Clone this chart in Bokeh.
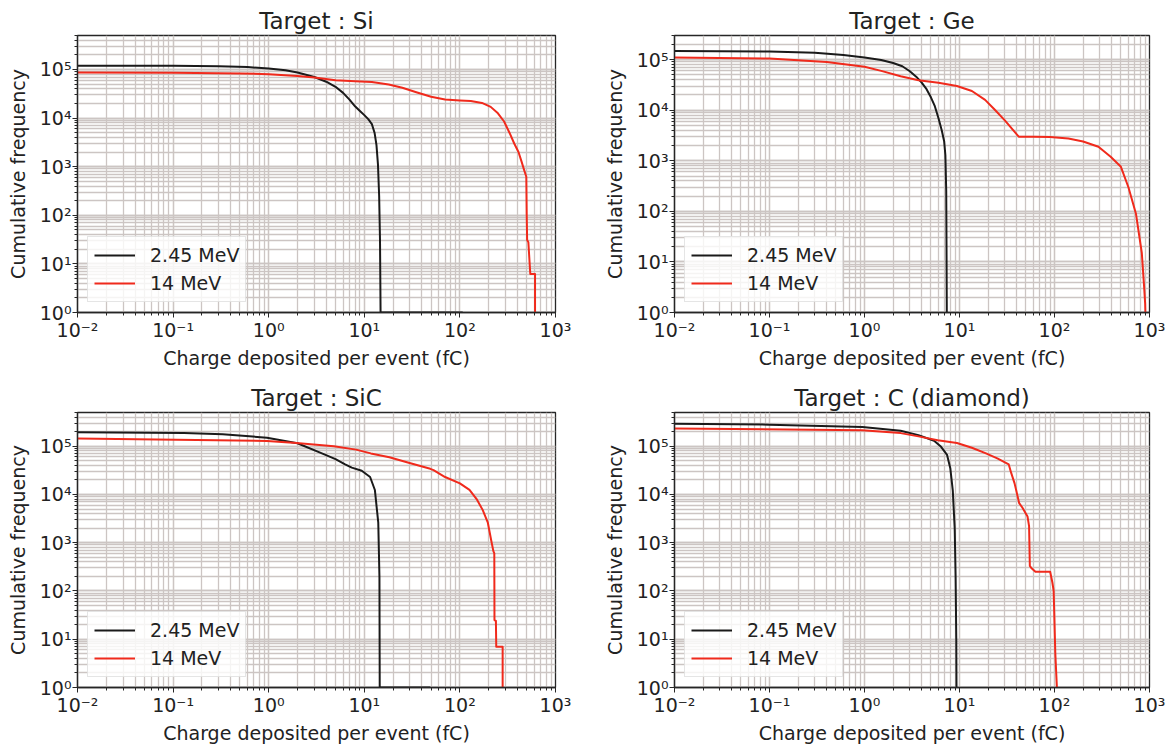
from bokeh.plotting import figure
from bokeh.layouts import gridplot
from bokeh.models import Range1d, CustomJSTickFormatter
from bokeh.embed import file_html
from bokeh.resources import INLINE

# ---------------- data ----------------
titles = ["Target : Si", "Target : Ge", "Target : SiC", "Target : C (diamond)"]
series_labels = ["2.45 MeV", "14 MeV"]
x_label = "Charge deposited per event (fC)"
y_label = "Cumulative frequency"
x_limits = [1e-2, 1e3]
y_bottom = 1
y_tops = [5.0e5, 3.0e5, 5.0e5, 5.0e5]

# Si
si_245_x = [0.01, 0.1, 0.3, 0.6, 1.0, 1.5, 2.0, 3.0, 4.0, 5.0, 6.0, 7.0, 8.0, 9.0, 10.0, 11.0, 12.0, 12.8, 13.4, 13.9, 14.3, 14.6, 14.8, 107]
si_245_y = [1.2e5, 1.19e5, 1.17e5, 1.12e5, 1.05e5, 9.6e4, 8.7e4, 7.0e4, 5.6e4, 4.4e4, 3.3e4, 2.4e4, 1.75e4, 1.4e4, 1.15e4, 9.5e3, 7.5e3, 5.0e3, 2.8e3, 1.1e3, 250, 30, 1, 1]
si_14_x = [0.01, 0.1, 0.5, 1.0, 2.0, 3.0, 5.0, 8.0, 12, 18, 25, 35, 50, 70, 100, 130, 170, 210, 250, 290, 330, 370, 410, 440, 470, 495, 500, 505, 520, 545, 611, 611]
si_14_y = [8.7e4, 8.6e4, 8.3e4, 8.0e4, 7.3e4, 6.8e4, 6.0e4, 5.7e4, 5.5e4, 4.9e4, 4.2e4, 3.4e4, 2.75e4, 2.4e4, 2.3e4, 2.25e4, 2.05e4, 1.7e4, 1.25e4, 8.5e3, 5.0e3, 3.0e3, 2.0e3, 1.3e3, 850, 620, 100, 31, 28, 6.2, 6.2, 1]

# Ge
ge_245_x = [0.01, 0.1, 0.3, 0.6, 1.0, 1.5, 2.0, 2.5, 3.0, 3.5, 4.0, 4.5, 5.0, 5.5, 6.0, 6.5, 6.9, 7.1, 7.25, 7.3, 7.35]
ge_245_y = [1.48e5, 1.45e5, 1.37e5, 1.24e5, 1.1e5, 9.8e4, 8.6e4, 7.4e4, 5.9e4, 4.6e4, 3.5e4, 2.6e4, 1.8e4, 1.2e4, 7.0e3, 4.0e3, 2.4e3, 1.3e3, 250, 20, 1]
ge_14_x = [0.01, 0.1, 0.4, 1.0, 1.5, 2.4, 3.7, 6.0, 9.4, 13.5, 18.6, 23, 30, 42, 60, 90, 140, 200, 290, 390, 500, 600, 720, 830, 880, 900, 905]
ge_14_y = [1.1e5, 1.05e5, 9.0e4, 7.2e4, 6.0e4, 4.7e4, 3.9e4, 3.5e4, 3.0e4, 2.4e4, 1.6e4, 1.07e4, 6.3e3, 3.0e3, 3.0e3, 2.95e3, 2.75e3, 2.4e3, 1.9e3, 1.2e3, 760, 300, 90, 15, 3, 1.5, 1]

# SiC
sic_245_x = [0.01, 0.13, 0.33, 0.96, 2.0, 3.5, 5.0, 6.3, 7.4, 9.4, 11.5, 12.9, 14.0, 14.4, 14.5, 49]
sic_245_y = [1.96e5, 1.87e5, 1.77e5, 1.5e5, 1.15e5, 7.3e4, 5.4e4, 4.2e4, 3.6e4, 3.1e4, 2.3e4, 1.24e4, 2.6e3, 200, 1, 1]
sic_14_x = [0.01, 0.96, 1.95, 4.8, 8.2, 11.7, 18.3, 28.5, 49, 53, 70, 100, 126, 151, 173, 196, 215, 224, 229, 230, 238, 240, 280, 280]
sic_14_y = [1.44e5, 1.29e5, 1.17e5, 1.0e5, 8.5e4, 7.1e4, 5.9e4, 4.6e4, 3.4e4, 3.2e4, 2.3e4, 1.7e4, 1.25e4, 7.8e3, 4.8e3, 2.6e3, 1.0e3, 670, 600, 25, 24, 7, 7, 1]

# C (diamond)
c_245_x = [0.01, 0.1, 0.95, 2.4, 3.7, 5.4, 6.4, 7.4, 8.0, 8.5, 8.9, 9.1, 9.25, 9.3]
c_245_y = [2.93e5, 2.8e5, 2.5e5, 2.1e5, 1.7e5, 1.3e5, 9.7e4, 6.6e4, 3.5e4, 1.2e4, 2.0e3, 200, 10, 1]
c_14_x = [0.01, 0.95, 2.4, 3.7, 5.9, 9.4, 13.5, 19, 25, 33, 35, 38, 42.5, 46, 52, 54, 55, 57, 63, 90, 95, 98, 102, 106]
c_14_y = [2.34e5, 2.14e5, 1.87e5, 1.6e5, 1.33e5, 1.17e5, 9.3e4, 7.1e4, 5.6e4, 4.2e4, 2.8e4, 1.7e4, 6.6e3, 5.3e3, 3.5e3, 2.2e3, 330, 300, 250, 250, 150, 100, 5, 1]

panels = [
    (si_245_x, si_245_y, si_14_x, si_14_y),
    (ge_245_x, ge_245_y, ge_14_x, ge_14_y),
    (sic_245_x, sic_245_y, sic_14_x, sic_14_y),
    (c_245_x, c_245_y, c_14_x, c_14_y),
]

# ---------------- styling / layout ----------------
FONT = "DejaVu Sans"
TXT = "#222222"
GRID = "#ccc5c3"
COL_BLACK = "#1a1a1a"
COL_RED = "#f02a1c"

# (width, height, left, right, top, bottom)
geom = [
    (600, 372, 77, 45, 35, 60),
    (568, 372, 74, 19, 35, 60),
    (600, 374, 77, 45, 40, 57),
    (568, 374, 74, 19, 40, 57),
]

SUP_JS = """
const sup = {"-":"\\u207b","0":"\\u2070","1":"\\u00b9","2":"\\u00b2","3":"\\u00b3","4":"\\u2074","5":"\\u2075","6":"\\u2076","7":"\\u2077","8":"\\u2078","9":"\\u2079"};
const e = Math.round(Math.log10(tick));
return "10" + String(e).split("").map(c => sup[c]).join("");
"""


def make_panel(i):
    w, h, bl, br, bt, bb = geom[i]
    x1, y1, x2, y2 = panels[i]
    p = figure(width=w, height=h, x_axis_type="log", y_axis_type="log",
               x_range=Range1d(x_limits[0], x_limits[1]),
               y_range=Range1d(y_bottom, y_tops[i]),
               output_backend="svg", toolbar_location=None,
               min_border_left=bl, min_border_right=br,
               min_border_top=bt, min_border_bottom=bb,
               title=titles[i])
    p.title.text_font = FONT
    p.title.text_font_size = "23px"
    p.title.text_font_style = "normal"
    p.title.text_color = TXT
    p.title.align = "center"
    p.title.standoff = 3

    p.background_fill_color = "white"
    p.border_fill_color = "white"
    p.outline_line_color = "#262626"
    p.outline_line_width = 1.3
    p.outline_line_alpha = 1.0

    for g in (p.xgrid[0], p.ygrid[0]):
        g.grid_line_color = GRID
        g.grid_line_width = 1.3
        g.grid_line_alpha = 1.0
        g.minor_grid_line_color = GRID
        g.minor_grid_line_width = 1.3
        g.minor_grid_line_alpha = 1.0

    for ax in (p.xaxis[0], p.yaxis[0]):
        ax.formatter = CustomJSTickFormatter(code=SUP_JS)
        ax.major_label_text_font = FONT
        ax.major_label_text_font_size = "19px"
        ax.major_label_text_color = TXT
        ax.axis_label_text_font = FONT
        ax.axis_label_text_font_size = "19px"
        ax.axis_label_text_font_style = "normal"
        ax.axis_label_text_color = TXT
        ax.axis_line_color = "#262626"
        ax.axis_line_width = 1.3
        ax.major_tick_line_color = "#262626"
        ax.minor_tick_line_color = "#262626"
        ax.major_tick_in = 0
        ax.major_tick_out = 5
        ax.minor_tick_in = 0
        ax.minor_tick_out = 3
        ax.major_label_standoff = 1
    p.xaxis[0].axis_label = x_label
    p.xaxis[0].axis_label_standoff = 3
    p.yaxis[0].axis_label = y_label
    p.yaxis[0].axis_label_standoff = 8

    p.line(x1, y1, color=COL_BLACK, line_width=2, line_join="round", legend_label=series_labels[0])
    p.line(x2, y2, color=COL_RED, line_width=2, line_join="round", legend_label=series_labels[1])

    lg = p.legend[0]
    lg.location = "bottom_left"
    lg.margin = 10
    lg.padding = 6
    lg.spacing = 4
    lg.glyph_width = 41
    lg.glyph_height = 24
    lg.label_height = 24
    lg.label_standoff = 15
    lg.label_text_font = FONT
    lg.label_text_font_size = "19px"
    lg.label_text_color = TXT
    lg.border_line_color = "#cccccc"
    lg.border_line_width = 1
    lg.background_fill_color = "white"
    lg.background_fill_alpha = 0.8
    return p


figs = [make_panel(i) for i in range(4)]
grid = gridplot([[figs[0], figs[1]], [figs[2], figs[3]]], toolbar_location=None)

open("out.html", "w").write(file_html(grid, INLINE))
